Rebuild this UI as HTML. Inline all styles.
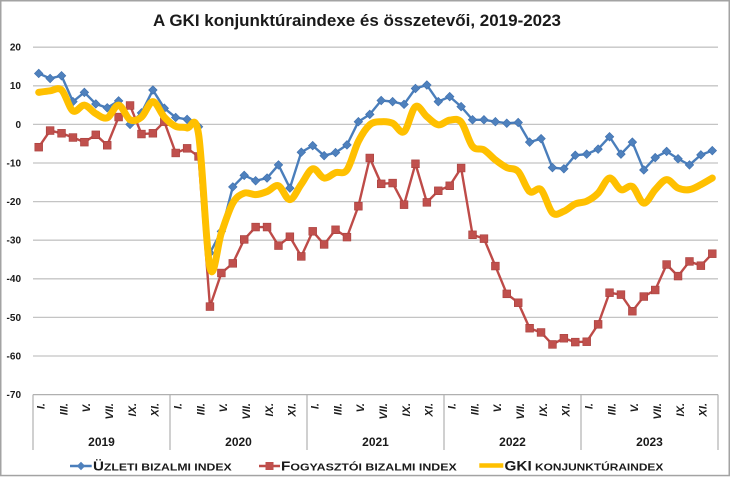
<!DOCTYPE html>
<html><head><meta charset="utf-8">
<style>
html,body{margin:0;padding:0;background:#fff;}
svg{display:block;}
text{font-family:"Liberation Sans",sans-serif;fill:#1a1a1a;}
</style></head><body>
<svg id="c" width="730" height="477" viewBox="0 0 730 477" xmlns="http://www.w3.org/2000/svg">
<rect x="0.75" y="0.75" width="728.5" height="474.8" fill="#fff" stroke="#a3a3a3" stroke-width="1.5"/>
<text x="357" y="26" font-size="17" font-weight="bold" text-anchor="middle" textLength="408" lengthAdjust="spacingAndGlyphs" fill="#000">A GKI konjunktúraindexe és összetevői, 2019-2023</text>
<g id="grid" stroke="#c4c4c4" stroke-width="1.3"></g>
<g font-size="10" font-weight="bold" text-anchor="end">
<text x="21" y="50.5">20</text>
<text x="21" y="89.2">10</text>
<text x="21" y="127.8">0</text>
<text x="21" y="166.4">-10</text>
<text x="21" y="205">-20</text>
<text x="21" y="243.6">-30</text>
<text x="21" y="282.2">-40</text>
<text x="21" y="320.8">-50</text>
<text x="21" y="359.4">-60</text>
<text x="21" y="398">-70</text>
</g>
<g id="axis" stroke="#b0b0b0" stroke-width="1.2"></g>
<g id="months" font-size="11" font-weight="bold" font-style="italic" text-anchor="end"></g>
<g font-size="12" font-weight="bold" text-anchor="middle">
<text x="101.5" y="446">2019</text>
<text x="238.5" y="446">2020</text>
<text x="375.5" y="446">2021</text>
<text x="512.5" y="446">2022</text>
<text x="649.5" y="446">2023</text>
</g>
<g id="series"></g>
<!-- legend -->
<line x1="70" y1="466" x2="91.7" y2="466" stroke="#4a7ebb" stroke-width="2.5"/>
<polygon points="81,461.8 85.2,466 81,470.2 76.8,466" fill="#4f81bd"/>
<text x="93" y="470.5" font-weight="bold" textLength="138.7" lengthAdjust="spacingAndGlyphs"><tspan font-size="13">Ü</tspan><tspan font-size="10.5">ZLETI BIZALMI INDEX</tspan></text>
<line x1="259" y1="466" x2="280" y2="466" stroke="#be4b48" stroke-width="2.5"/>
<rect x="265.5" y="462" width="8" height="8" fill="#c0504d"/>
<text x="281" y="470.5" font-weight="bold" textLength="175.7" lengthAdjust="spacingAndGlyphs"><tspan font-size="13">F</tspan><tspan font-size="10.5">OGYASZTÓI BIZALMI INDEX</tspan></text>
<line x1="479.3" y1="465.5" x2="503.3" y2="465.5" stroke="#ffc000" stroke-width="4.5"/>
<text x="504.5" y="470.5" font-weight="bold" textLength="158.8" lengthAdjust="spacingAndGlyphs"><tspan font-size="13.5">GKI</tspan><tspan font-size="10.5"> KONJUNKTÚRAINDEX</tspan></text>
</svg>
<script>
(function(){
var NS="http://www.w3.org/2000/svg";
function el(tag,attrs,parent,txt){var e=document.createElementNS(NS,tag);for(var k in attrs)e.setAttribute(k,attrs[k]);if(txt!==undefined)e.textContent=txt;parent.appendChild(e);return e;}
var X0=33,X1=718,W=(X1-X0)/60;
function X(i){return X0+(i+0.5)*W;}
function Y(v){return 124.4-v*3.86;}
var grid=document.getElementById('grid');
for(var v=20;v>=-60;v-=10){el('line',{x1:X0,y1:Y(v),x2:X1,y2:Y(v)},grid);}
var axis=document.getElementById('axis');
el('line',{x1:X0,y1:Y(-70),x2:X1,y2:Y(-70)},axis);
for(var k=0;k<=5;k++){var xx=X0+k*12*W;el('line',{x1:xx,y1:Y(-70),x2:xx,y2:450},axis);}
var months=document.getElementById('months');
var names=["I.","III.","V.","VII.","IX.","XI."];
for(var y=0;y<5;y++){for(var m=0;m<6;m++){var i=y*12+m*2;var cx=X(i)+2.8;
el('text',{x:0,y:0,transform:"translate("+cx+",403) rotate(-90)","dominant-baseline":"central"},months,names[m]);}}
var blue=[13.2,11.9,12.6,5.9,8.3,5.3,4.3,6.1,0.0,3.0,8.9,4.2,1.8,1.3,-0.6,-33.3,-27.7,-16.2,-13.2,-14.6,-13.9,-10.5,-16.5,-7.2,-5.5,-8.1,-7.3,-5.3,0.7,2.6,6.2,5.9,5.2,9.3,10.2,5.9,7.2,4.6,1.2,1.2,0.7,0.3,0.5,-4.6,-3.7,-11.2,-11.5,-8.0,-7.7,-6.4,-3.2,-7.7,-4.6,-11.8,-8.6,-7.0,-8.9,-10.5,-7.9,-6.8];
var red=[-5.9,-1.6,-2.3,-3.4,-4.6,-2.7,-5.4,1.9,4.9,-2.5,-2.3,0.7,-7.4,-6.2,-8.3,-47.2,-38.5,-36.0,-29.8,-26.6,-26.6,-31.4,-29.1,-34.2,-27.7,-31.1,-27.3,-29.2,-21.2,-8.7,-15.4,-15.2,-20.8,-10.2,-20.2,-17.2,-15.9,-11.3,-28.6,-29.6,-36.7,-43.9,-46.2,-52.8,-53.9,-57.0,-55.4,-56.4,-56.3,-51.8,-43.6,-44.1,-48.4,-44.6,-42.9,-36.3,-39.3,-35.5,-36.6,-33.5];
var yel=[8.3,8.7,8.9,3.5,5.0,2.8,1.7,5.0,1.2,1.9,5.9,1.9,-0.5,-0.9,-2.5,-37.2,-28.1,-20.4,-17.8,-18.2,-17.4,-15.9,-19.5,-15.5,-11.5,-13.9,-12.5,-11.8,-4.4,-0.1,0.7,0.3,-1.9,4.6,2.0,-0.1,1.1,0.6,-5.7,-6.6,-9.2,-11.2,-12.2,-17.4,-16.9,-22.9,-22.5,-20.6,-19.9,-17.8,-13.9,-16.9,-16.1,-20.4,-16.9,-14.3,-16.5,-16.9,-15.6,-13.9];
var S=document.getElementById('series');
function poly(d){var p=[];for(var i=0;i<d.length;i++)p.push(X(i).toFixed(2)+","+Y(d[i]).toFixed(2));return p.join(" ");}
el('polyline',{points:poly(blue),fill:"none",stroke:"#4a7ebb","stroke-width":2.4,"stroke-linejoin":"round"},S);
for(var i=0;i<blue.length;i++){var x=X(i),yy=Y(blue[i]),r=4.3;
el('polygon',{points:(x)+","+(yy-r)+" "+(x+r)+","+yy+" "+x+","+(yy+r)+" "+(x-r)+","+yy,fill:"#4f81bd",stroke:"#3d6fae","stroke-width":0.6},S);}
el('polyline',{points:poly(red),fill:"none",stroke:"#be4b48","stroke-width":2.4,"stroke-linejoin":"round"},S);
for(var i=0;i<red.length;i++){var x=X(i),yy=Y(red[i]);
el('rect',{x:x-3.9,y:yy-3.9,width:7.8,height:7.8,fill:"#c0504d",stroke:"#a83f3c","stroke-width":0.6},S);}
var P=[];for(var i=0;i<yel.length;i++)P.push([X(i),Y(yel[i])]);
var d="M"+P[0][0].toFixed(2)+","+P[0][1].toFixed(2);
for(var i=0;i<P.length-1;i++){var p0=P[i-1]||P[i],p1=P[i],p2=P[i+1],p3=P[i+2]||P[i+1];
var c1x=p1[0]+(p2[0]-p0[0])/6,c1y=p1[1]+(p2[1]-p0[1])/6,c2x=p2[0]-(p3[0]-p1[0])/6,c2y=p2[1]-(p3[1]-p1[1])/6;
d+=" C"+c1x.toFixed(2)+","+c1y.toFixed(2)+" "+c2x.toFixed(2)+","+c2y.toFixed(2)+" "+p2[0].toFixed(2)+","+p2[1].toFixed(2);}
el('path',{d:d,fill:"none",stroke:"#ffc000","stroke-width":7,"stroke-linejoin":"round","stroke-linecap":"round"},S);
})();
</script>
</body></html>
